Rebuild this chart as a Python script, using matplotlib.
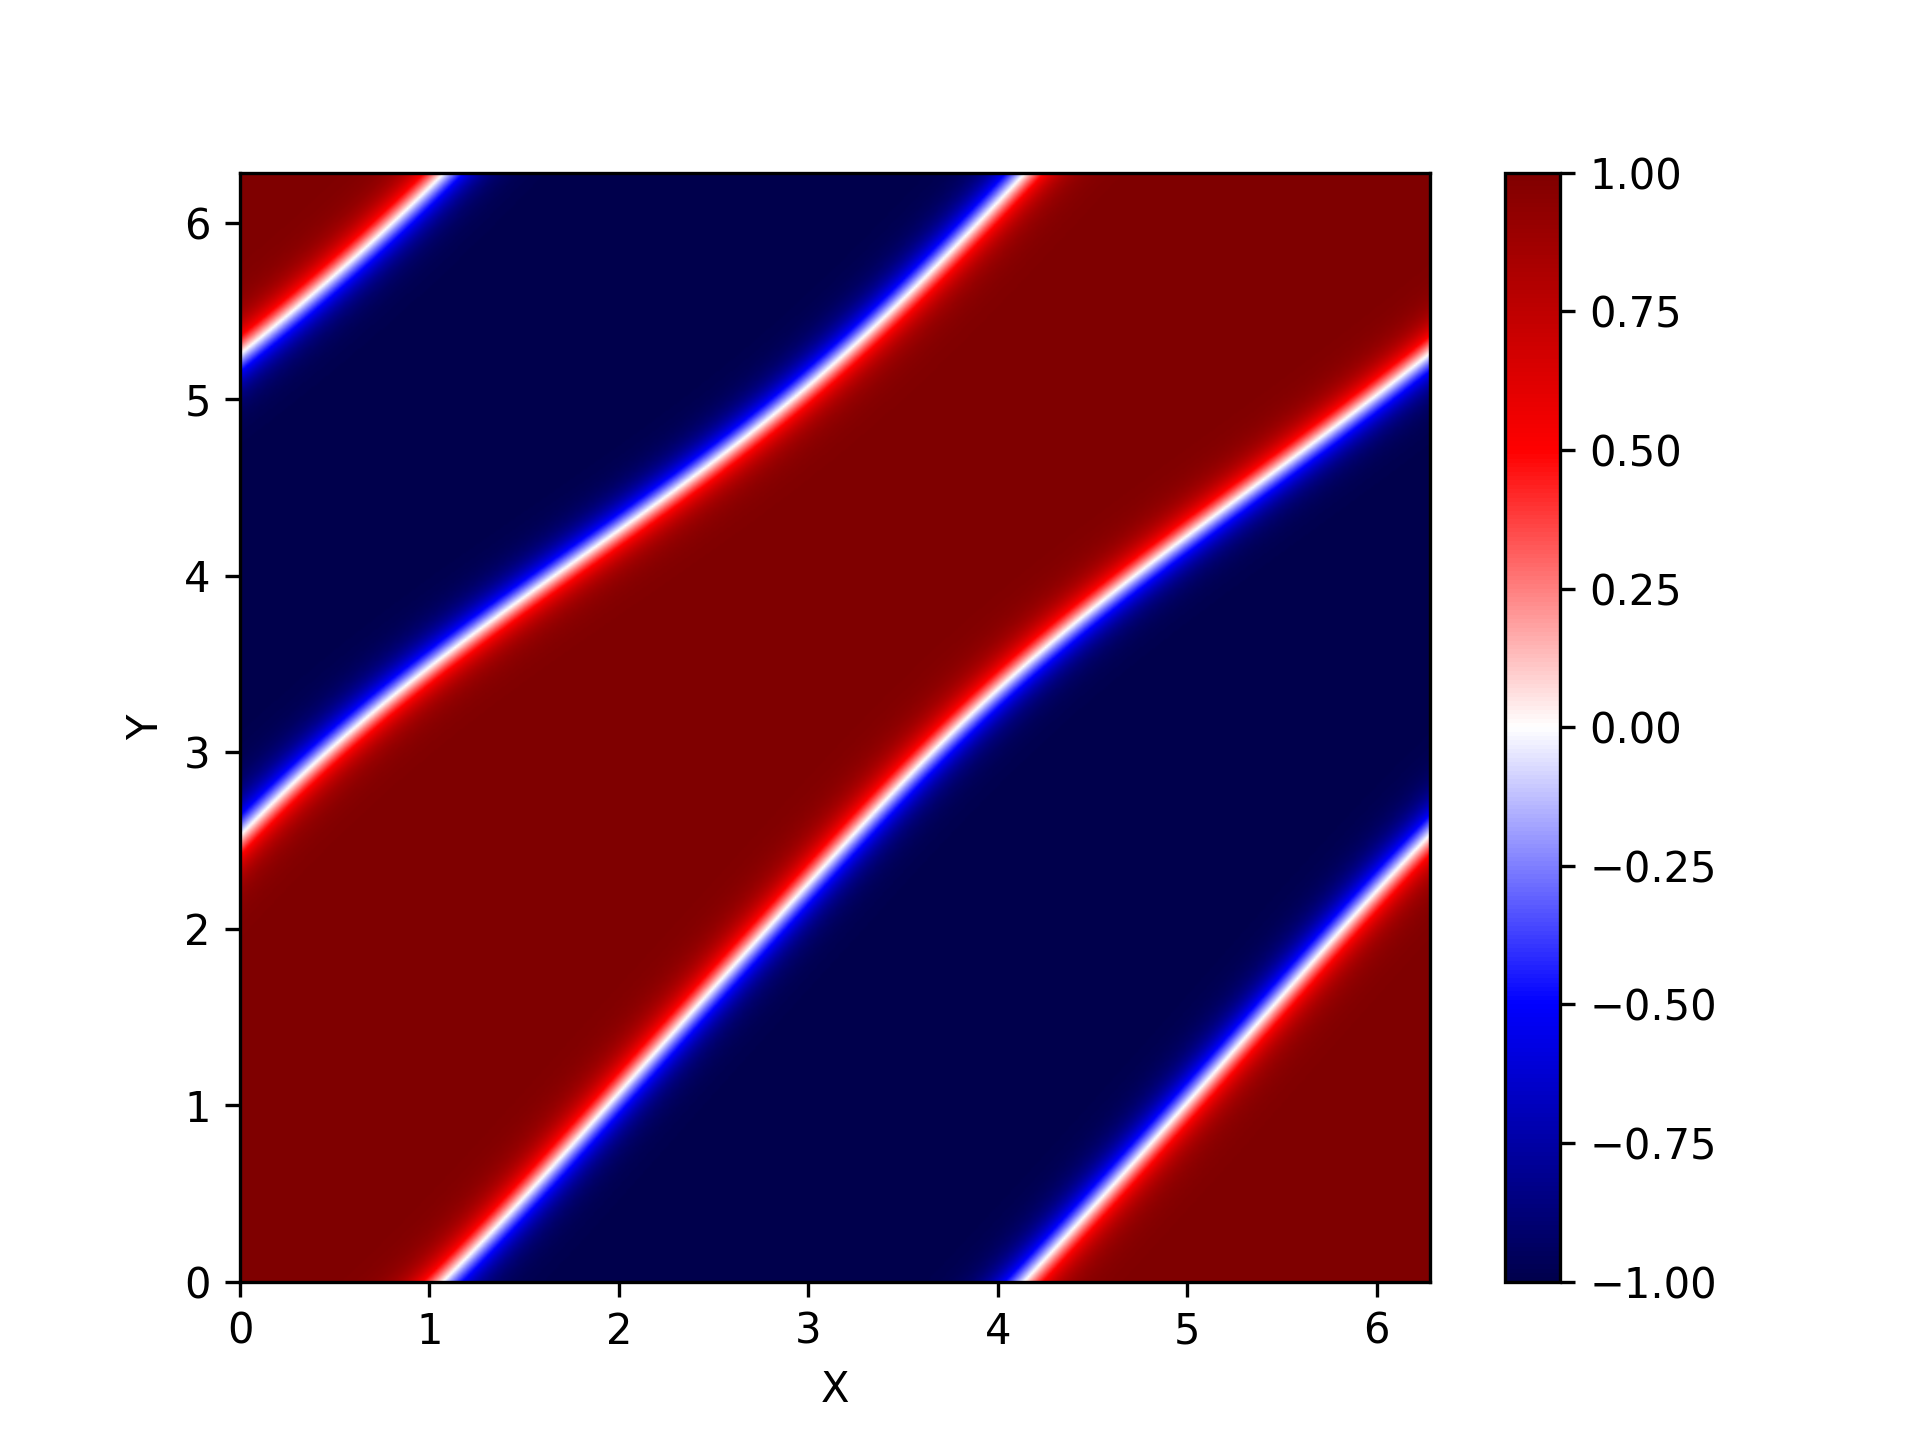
import numpy as np
import matplotlib
matplotlib.use("Agg")
import matplotlib.pyplot as plt

# Interface positions (x of the white zero line at given y)
y_samples = [0.068, 0.521, 1.048, 1.569, 2.096, 2.617, 3.139, 3.666, 4.187, 4.714, 5.235, 5.756]
# interface A: red on the left, blue on the right
x_iface_a = [1.140, 1.532, 1.985, 2.409, 2.866, 3.319, 3.755, 4.361, 4.927, 5.614, 6.260, 6.817]
# interface B: blue on the left, red on the right
x_iface_b = [4.200, 4.592, 5.028, 5.453, 5.909, 6.360, 6.865, 7.532, 8.158, 8.866, 9.452, 9.945]
width = 0.14          # interface half-width (normal direction)
cbar_ticks = [-1.00, -0.75, -0.50, -0.25, 0.00, 0.25, 0.50, 0.75, 1.00]

TWO_PI = 2 * np.pi
ys = np.array(y_samples)


def fourier_fit(yv, xv, nh=3):
    # xv - y is periodic in y; least-squares trig fit
    p = np.array(xv) - yv
    cols = [np.ones_like(yv)]
    for k in range(1, nh + 1):
        cols += [np.cos(k * yv), np.sin(k * yv)]
    M = np.stack(cols, axis=1)
    coef, *_ = np.linalg.lstsq(M, p, rcond=None)

    def f(y):
        out = coef[0] * np.ones_like(y)
        d = np.ones_like(y)
        for k in range(1, nh + 1):
            a, b = coef[2 * k - 1], coef[2 * k]
            out = out + a * np.cos(k * y) + b * np.sin(k * y)
            d = d + k * (-a * np.sin(k * y) + b * np.cos(k * y))
        return y + out, d
    return f


fa = fourier_fit(ys, x_iface_a)
fb = fourier_fit(ys, x_iface_b)

n = 700
xg = np.linspace(0, TWO_PI, n)
yg = np.linspace(0, TWO_PI, n)
X, Y = np.meshgrid(xg, yg)
A, dA = fa(Y)
B, dB = fb(Y)


def pdist(x, c):
    return np.abs(np.mod(x - c + np.pi, TWO_PI) - np.pi)


da = pdist(X, A) / np.sqrt(1 + dA ** 2)
db = pdist(X, B) / np.sqrt(1 + dB ** 2)
d = np.minimum(da, db)
gap = np.mod(B - A, TWO_PI)
s = np.where(np.mod(X - A, TWO_PI) < gap, -1.0, 1.0)
Z = s * np.tanh(d / width)

fig = plt.figure(figsize=(6.4, 4.8), dpi=300)
ax = fig.add_subplot(111)
im = ax.imshow(Z, extent=[0, TWO_PI, 0, TWO_PI], origin="lower", aspect="auto",
               cmap="seismic", vmin=-1, vmax=1, interpolation="bilinear")
ax.set_xlabel("X")
ax.set_ylabel("Y")
cb = fig.colorbar(im, ax=ax)
cb.set_ticks(cbar_ticks)
cb.ax.yaxis.set_major_formatter(matplotlib.ticker.FormatStrFormatter("%.2f"))
cb.ax.set_yticklabels([("\u2212" if t < 0 else "") + "%.2f" % abs(t) for t in cbar_ticks])
fig.savefig("out.png", dpi=300)
